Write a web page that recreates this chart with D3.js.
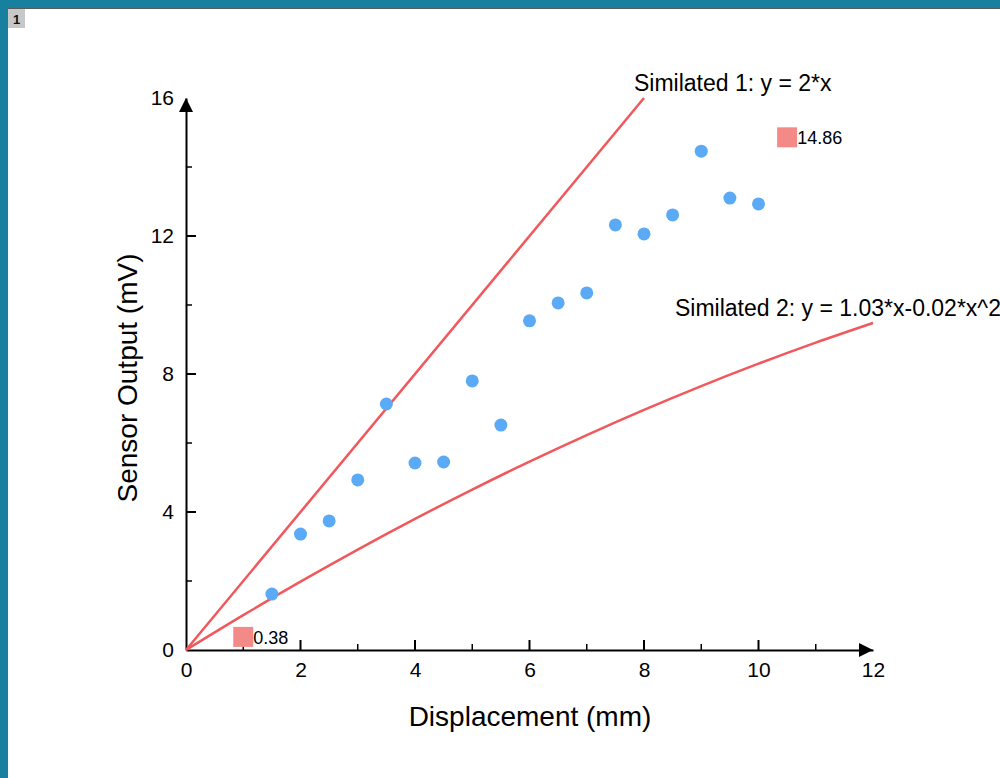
<!DOCTYPE html>
<html>
<head>
<meta charset="utf-8">
<script src="https://cdn.jsdelivr.net/npm/d3@7"></script>
<style>
  html, body { margin: 0; padding: 0; background: #fff; overflow: hidden; }
  svg { display: block; }
  svg text { font-family: "Liberation Sans", Arial, sans-serif; }
</style>
</head>
<body>
<svg id="chart" width="1000" height="778"></svg>
<script>
const dispX = [1.5, 2, 2.5, 3, 3.5, 4, 4.5, 5, 5.5, 6, 6.5, 7, 7.5, 8, 8.5, 9, 9.5, 10];
const sensorY = [1.62, 3.36, 3.74, 4.93, 7.13, 5.42, 5.45, 7.80, 6.52, 9.54, 10.06, 10.35, 12.32, 12.06, 12.61, 14.46, 13.10, 12.93];

// simulated curves, values read at integer displacements
const sim1X = [0, 8];
const sim1Y = [0, 16];
const sim2X = [0, 1, 2, 3, 4, 5, 6, 7, 8, 9, 10, 11, 12];
const sim2Y = [0, 1.01, 1.98, 2.91, 3.80, 4.65, 5.46, 6.23, 6.96, 7.65, 8.30, 8.91, 9.48];

// min / max markers
const markX = [1, 10.5];
const markY = [0.38, 14.86];
const markLabels = ["0.38", "14.86"];

const xTicks = [0, 2, 4, 6, 8, 10, 12];
const yTicks = [0, 4, 8, 12, 16];
const xMinor = [1, 3, 5, 7, 9, 11];
const yMinor = [2, 6, 10, 14];

const svg = d3.select("#chart");
const width = +svg.attr("width");
const height = +svg.attr("height");

// window frame
svg.append("rect").attr("x", 0).attr("y", 0).attr("width", width).attr("height", 8).attr("fill", "#17809f");
svg.append("rect").attr("x", 0).attr("y", 0).attr("width", 8).attr("height", height).attr("fill", "#17809f");
svg.append("line").attr("x1", 8).attr("x2", width).attr("y1", 8.5).attr("y2", 8.5)
  .attr("stroke", "#5a5a5a").attr("stroke-width", 1);
svg.append("rect").attr("x", 8).attr("y", 9).attr("width", 17).attr("height", 19).attr("fill", "#c8c8c8");
svg.append("text").attr("x", 16.5).attr("y", 24).attr("text-anchor", "middle")
  .style("font-size", "13px").style("font-weight", "bold").attr("fill", "#111").text("1");

const x = d3.scaleLinear().domain([0, 12]).range([186, 873]);
const y = d3.scaleLinear().domain([0, 16]).range([650, 98]);

const axisColor = "#000";
const red = "#f0585c";
const blue = "#5aaaf6";

// axes
const g = svg.append("g");

const xAxis = d3.axisBottom(x).tickValues(xTicks).tickSize(0).tickPadding(12);
const xAxisG = g.append("g").attr("transform", `translate(0,${y(0)})`).call(xAxis);
xAxisG.select(".domain").attr("stroke", axisColor).attr("stroke-width", 2);
xAxisG.selectAll("text").style("font-size", "21px").attr("fill", "#000");

const yAxis = d3.axisLeft(y).tickValues(yTicks).tickSize(0).tickPadding(12);
const yAxisG = g.append("g").attr("transform", `translate(${x(0)},0)`).call(yAxis);
yAxisG.select(".domain").attr("stroke", axisColor).attr("stroke-width", 2);
yAxisG.selectAll("text").style("font-size", "21px").attr("fill", "#000");

// inward ticks
g.selectAll(".xmaj").data(xTicks.slice(1, -1)).enter().append("line")
  .attr("x1", d => x(d)).attr("x2", d => x(d))
  .attr("y1", y(0)).attr("y2", y(0) - 10)
  .attr("stroke", axisColor).attr("stroke-width", 2);
g.selectAll(".xmin").data(xMinor).enter().append("line")
  .attr("x1", d => x(d)).attr("x2", d => x(d))
  .attr("y1", y(0)).attr("y2", y(0) - 6)
  .attr("stroke", axisColor).attr("stroke-width", 1.5);
g.selectAll(".ymaj").data(yTicks.slice(1, -1)).enter().append("line")
  .attr("x1", x(0)).attr("x2", x(0) + 10)
  .attr("y1", d => y(d)).attr("y2", d => y(d))
  .attr("stroke", axisColor).attr("stroke-width", 2);
g.selectAll(".ymin").data(yMinor).enter().append("line")
  .attr("x1", x(0)).attr("x2", x(0) + 6)
  .attr("y1", d => y(d)).attr("y2", d => y(d))
  .attr("stroke", axisColor).attr("stroke-width", 1.5);

// arrow heads
const ax = x(12), ay = y(16), ox = x(0), oy = y(0);
g.append("path").attr("d", `M${ax},${oy} L${ax - 14},${oy - 7} L${ax - 14},${oy + 7} Z`).attr("fill", axisColor);
g.append("path").attr("d", `M${ox},${ay} L${ox - 7},${ay + 14} L${ox + 7},${ay + 14} Z`).attr("fill", axisColor);

// axis titles
svg.append("text").attr("x", 530).attr("y", 726).attr("text-anchor", "middle")
  .style("font-size", "28px").attr("fill", "#000").text("Displacement (mm)");
svg.append("text").attr("transform", "translate(137,378) rotate(-90)").attr("text-anchor", "middle")
  .style("font-size", "28px").attr("fill", "#000").text("Sensor Output (mV)");

// simulated lines
const line = d3.line().x(d => x(d[0])).y(d => y(d[1]));
g.append("path").datum(d3.zip(sim1X, sim1Y)).attr("d", line)
  .attr("fill", "none").attr("stroke", red).attr("stroke-width", 2.5);
g.append("path").datum(d3.zip(sim2X, sim2Y)).attr("d", line.curve(d3.curveMonotoneX))
  .attr("fill", "none").attr("stroke", red).attr("stroke-width", 2.5);

svg.append("text").attr("x", 634).attr("y", 91).style("font-size", "23px").attr("fill", "#000")
  .text("Similated 1: y = 2*x");
svg.append("text").attr("x", 675).attr("y", 316).style("font-size", "23px").attr("fill", "#000")
  .text("Similated 2: y = 1.03*x-0.02*x^2");

// markers
const marks = d3.zip(markX, markY, markLabels);
g.selectAll(".mark").data(marks).enter().append("rect")
  .attr("x", d => x(d[0]) - 10).attr("y", d => y(d[1]) - 10)
  .attr("width", 20).attr("height", 20).attr("fill", "#f48a88");
g.selectAll(".marklbl").data(marks).enter().append("text")
  .attr("x", d => x(d[0]) + 10).attr("y", d => y(d[1]) + 7)
  .style("font-size", "18px").attr("fill", "#000").text(d => d[2]);

// measured points
g.selectAll(".pt").data(d3.zip(dispX, sensorY)).enter().append("circle")
  .attr("cx", d => x(d[0])).attr("cy", d => y(d[1])).attr("r", 6.5)
  .attr("fill", blue);
</script>
</body>
</html>
